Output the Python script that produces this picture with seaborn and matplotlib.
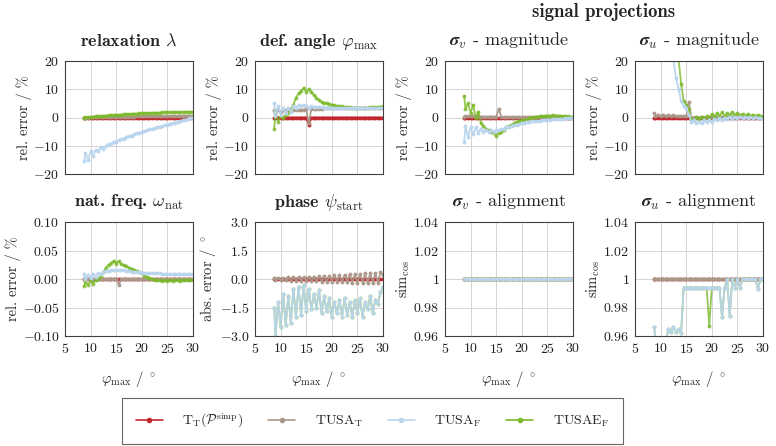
import numpy as np
import pandas as pd
import matplotlib
matplotlib.use("Agg")
import matplotlib.pyplot as plt
from matplotlib.lines import Line2D
import seaborn as sns

# phi_max sample positions (deg)
phi = [8.75, 9.0, 9.5, 10.0, 10.5, 11.0, 11.5, 12.0, 12.5, 13.0, 13.5,
       14.0, 14.5, 15.0, 15.5, 16.0, 16.5, 17.0, 17.5, 18.0, 18.5, 19.0,
       19.5, 20.0, 20.5, 21.0, 21.5, 22.0, 22.5, 23.0, 23.5, 24.0, 24.5,
       25.0, 25.5, 26.0, 26.5, 27.0, 27.5, 28.0, 28.5, 29.0, 29.5, 30.0]

methods = ["TT", "TUSA_T", "TUSA_F", "TUSAE_F"]
labels = [r"$\mathrm{T}_\mathrm{T}(\mathcal{P}^\mathrm{simp})$",
          r"$\mathrm{TUSA}_\mathrm{T}$",
          r"$\mathrm{TUSA}_\mathrm{F}$",
          r"$\mathrm{TUSAE}_\mathrm{F}$"]
colors = {"TT": "#c1272d", "TUSA_T": "#ab988a", "TUSA_F": "#bad5ee", "TUSAE_F": "#7ab929"}

zeros = [0.0] * 11  # one row of 11 samples at zero

# --- relaxation lambda (rel. error %)
lam_tt = zeros + zeros + zeros + zeros
lam_tusa_t = [0.0, 0.0, 0.0, 0.05, 0.05, 0.1, 0.1, 0.1, 0.15, 0.15, 0.2,
              0.2, 0.2, 0.25, 0.25, 0.3, 0.3, 0.3, 0.35, 0.35, 0.35, 0.4,
              0.4, 0.4, 0.4, 0.45, 0.45, 0.45, 0.45, 0.5, 0.5, 0.5, 0.5,
              0.5, 0.55, 0.55, 0.55, 0.55, 0.55, 0.6, 0.6, 0.6, 0.6, 0.6]
lam_tusa_f = [-15.5, -12.5, -15, -12, -13.5, -11.5, -12, -10.5, -11, -10, -9.5,
              -9.5, -8.5, -8.5, -8, -7.5, -7.5, -7, -6.5, -6.5, -6, -5.5,
              -5.5, -5, -4.8, -4.5, -4.2, -4, -3.7, -3.5, -3.2, -3, -2.7,
              -2.5, -2.2, -2, -1.8, -1.5, -1.3, -1, -0.8, -0.6, -0.3, 0]
lam_tusae_f = [0.0, 0.05, 0.1, 0.2, 0.3, 0.4, 0.45, 0.55, 0.6, 0.7, 0.75,
               0.8, 0.9, 0.95, 1.0, 1.05, 1.1, 1.2, 1.25, 1.3, 1.35, 1.4,
               1.45, 1.5, 1.55, 1.6, 1.6, 1.65, 1.7, 1.7, 1.75, 1.8, 1.8,
               1.85, 1.85, 1.9, 1.9, 1.9, 1.95, 1.95, 2.0, 2.0, 2.0, 2.0]

# --- deflection angle phi_max (rel. error %)
phi_tt = [0, 0, 0, 0, 0, 0, 0, 0, 0, 0, 0,
          0, 0, 0, -2.5, 0, 0, 0, 0, 0, 0, 0] + zeros + zeros
phi_tusa_t = [2.5, 1.5, 2.5, 2.0, 2.5, 2.5, 2.5, 2.5, 2.5, 2.5, 2.7,
              2.7, 2.8, 3.0, -2.0, 3.0, 3.0, 3.1, 3.1, 3.1, 3.2, 3.2,
              3.2, 3.2, 3.2, 3.2, 3.3, 3.3, 3.3, 3.3, 3.3, 3.3, 3.3,
              3.4, 3.4, 3.4, 3.4, 3.4, 3.4, 3.4, 3.4, 3.4, 3.4, 3.4]
phi_tusa_f = [5, 0.5, 4, 1, 3.5, 1.5, 3.5, 2, 4, 3.5, 4.5,
              4, 4.5, 4, 3.5, 4, 3.8, 3.7, 3.6, 3.6, 3.5, 3.5,
              3.5, 3.5, 3.4, 3.4, 3.4, 3.4, 3.4, 3.4, 3.4, 3.4, 3.4,
              3.4, 3.4, 3.4, 3.4, 3.4, 3.4, 3.4, 3.4, 3.4, 3.4, 3.5]
phi_tusae_f = [-4, 2.5, -1.5, 0.5, 0, 1, 1.5, 3, 4.5, 7, 8.5,
               9.5, 10.5, 9, 10, 9, 8, 7, 6.2, 5.5, 5.2, 5,
               4.8, 4.5, 4.3, 4.2, 4, 3.9, 3.8, 3.7, 3.6, 3.5, 3.5,
               3.5, 3.4, 3.4, 3.5, 3.5, 3.6, 3.6, 3.7, 3.8, 3.8, 4.0]

# --- sigma_v magnitude (rel. error %)
sv_tt = zeros + zeros + zeros + zeros
sv_tusa_t = [0.3, 0.5, 0.5, 0.5, 0.4, 0.4, 0.4, 0.3, 0.3, 0.3, 0.3,
             0.3, 0.3, 0.3, 3.0, 0.2, 0.2, 0.2, 0.2, 0.1, 0.1, 0.1,
             0.1, 0.1, 0.1, 0.1, 0.1, 0.1, 0.1, 0.1, 0.1, 0.1, 0.1,
             0.0, 0.0, 0.0, 0.0, 0.0, 0.0, 0.0, 0.0, 0.0, 0.0, 0.0]
sv_tusa_f = [-8.5, -3, -7, -3.5, -6, -3.5, -5.5, -4, -5, -4.5, -5,
             -4.5, -5, -4.5, -4.5, -4.2, -4, -3.5, -3.2, -3, -2.7, -2.5,
             -2.3, -2, -1.8, -1.7, -1.5, -1.4, -1.3, -1.2, -1.1, -1, -0.9,
             -0.8, -0.8, -0.7, -0.6, -0.5, -0.5, -0.4, -0.3, -0.2, -0.2, -0.1]
sv_tusae_f = [7.5, 3, 5, 1.5, 4.5, 0, 2, -2, -3, -4, -4.5,
              -5, -5.5, -6.5, -5.5, -5, -4.5, -3.5, -3, -2.5, -2, -1.5,
              -1.2, -1, -0.8, -0.5, -0.3, 0, 0.2, 0.3, 0.5, 0.5, 0.6,
              0.7, 0.7, 0.8, 0.7, 0.7, 0.6, 0.5, 0.5, 0.4, 0.3, 0.3]

# --- sigma_u magnitude (rel. error %)
su_tt = zeros + zeros + zeros + zeros
su_tusa_t = [1.5, 0.5, 1, 0.5, 1, 0.5, 0.8, 0.5, 0.8, 0.5, 0.6,
             0.5, 0.5, 0.5, 5.5, 0, 0, 0.2, 0, 0.1, 0, 0.1,
             0.2, 0.1, 0.2, 0.1, 0.2, 0.1, 0.2, 0.1, 0.2, 0.1, 0.2,
             0.1, 0.2, 0.1, 0.2, 0.1, 0.2, 0.1, 0.2, 0.1, 0.2, 0.1]
su_tusa_f = [50, 46, 42, 38, 34, 30, 27, 24, 20.5, 14, 10,
             6, 4, 3.5, 1, -1.5, -1, -2, -1.5, -2, -1, -1.5,
             -0.8, -1.5, -0.5, -1, -0.3, -1, 0, -0.5, 0.3, -0.5, 0.2,
             -0.3, 0.2, -0.3, 0.3, -0.2, 0.2, -0.3, 0.2, -0.2, 0, -0.5]
su_tusae_f = [60, 58, 55, 52, 48, 44, 40, 35, 30, 25, 21,
              12, 6, 4.5, 3, -0.5, -1, 0.2, -0.5, 0.3, -0.5, 0.5,
              -0.3, 1.2, 0.2, 1.5, 0.5, 1.8, 0.5, 1.5, 0.8, 2, 0.8,
              1.5, 0.8, 1.3, 0.7, 1.2, 0.5, 1, 0.6, 0.8, 0.4, 0.5]

# --- natural frequency omega_nat (rel. error %)
om_tt = zeros + zeros + zeros + zeros
om_tusa_t = [0, 0, 0, 0, 0, 0, 0, 0, 0, 0, 0,
             0, 0, 0, -0.01, 0, 0, 0, 0, 0, 0, 0] + zeros + zeros
om_tusa_f = [0.008, 0.0, 0.007, 0.002, 0.008, 0.004, 0.01, 0.008, 0.012, 0.014, 0.014,
             0.015, 0.015, 0.016, 0.015, 0.016, 0.015, 0.014, 0.014, 0.013, 0.013, 0.012,
             0.012, 0.011, 0.011, 0.011, 0.01, 0.01, 0.01, 0.01, 0.01, 0.009, 0.009,
             0.009, 0.009, 0.009, 0.009, 0.008, 0.008, 0.008, 0.008, 0.008, 0.008, 0.008]
om_tusae_f = [-0.012, -0.006, -0.01, -0.004, -0.008, -0.002, 0.0, 0.005, 0.012, 0.02, 0.025,
              0.028, 0.032, 0.027, 0.031, 0.026, 0.024, 0.022, 0.02, 0.018, 0.016, 0.014,
              0.012, 0.01, 0.006, 0.004, 0.002, 0.0, -0.001, -0.002, -0.002, -0.003, -0.002,
              -0.003, -0.002, -0.003, -0.002, -0.002, -0.003, -0.002, -0.002, -0.002, -0.001, -0.001]

# --- phase psi_start (abs. error deg)
ps_tt = zeros + zeros + zeros + zeros
ps_tusa_t = [0.05, -0.05, 0.05, -0.05, 0.05, -0.05, 0.08, -0.08, 0.08, -0.08, 0.1,
             -0.1, 0.1, -0.1, 0.12, -0.12, 0.12, -0.12, 0.15, -0.15, 0.15, -0.15,
             0.18, -0.15, 0.2, -0.15, 0.2, -0.18, 0.22, -0.18, 0.25, -0.2, 0.25,
             -0.2, 0.28, -0.2, 0.3, -0.22, 0.3, -0.2, 0.32, -0.2, 0.35, 0.2]
ps_tusa_f = [-1.5, -3.0, -1.2, -2.5, -0.8, -2.4, -0.9, -2.3, -0.5, -2.0, -0.4,
             -1.9, -0.3, -1.7, -0.5, -1.6, -0.8, -1.5, -0.6, -1.8, -0.9, -1.7,
             -1.0, -2.0, -1.2, -1.8, -1.1, -2.0, -1.0, -1.9, -1.2, -2.0, -1.1,
             -1.8, -1.0, -2.0, -1.2, -1.6, -0.9, -1.8, -1.1, -1.3, -0.7, -0.4]
ps_tusae_f = list(ps_tusa_f)

# --- sigma_v alignment (cosine similarity)
av_all = [1.0] * 44

# --- sigma_u alignment (cosine similarity)
au_tt = [1.0] * 44
au_tusa_t = [1.0] * 44
au_tusa_f = [0.966, 0.955, 0.955, 0.955, 0.955, 0.955, 0.965, 0.963, 0.966, 0.963, 0.965,
             0.962, 0.994, 0.994, 0.994, 0.994, 0.994, 0.994, 0.994, 0.994, 0.994, 0.994,
             0.994, 0.994, 0.994, 0.994, 0.994, 0.973, 0.994, 1.0, 0.974, 1.0, 0.994,
             1.0, 0.994, 1.0, 1.0, 1.0, 1.0, 1.0, 1.0, 0.993, 1.0, 1.0]
au_tusae_f = [0.966, 0.955, 0.955, 0.955, 0.955, 0.955, 0.965, 0.963, 0.966, 0.963, 0.965,
              0.962, 0.994, 0.994, 0.994, 0.994, 0.994, 0.994, 0.994, 0.994, 0.994, 0.994,
              0.967, 0.994, 0.994, 0.994, 0.994, 0.973, 0.994, 1.0, 0.974, 1.0, 0.994,
              1.0, 0.994, 1.0, 1.0, 1.0, 1.0, 1.0, 1.0, 0.993, 1.0, 1.0]

panels = [
    dict(title=r"relaxation $\lambda$", bold=True, ylim=(-20, 20),
         yticks=[-20, -10, 0, 10, 20], ylabel="rel. error / %",
         data=[lam_tt, lam_tusa_t, lam_tusa_f, lam_tusae_f]),
    dict(title=r"def. angle $\varphi_\mathrm{max}$", bold=True, ylim=(-20, 20),
         yticks=[-20, -10, 0, 10, 20], ylabel="rel. error / %",
         data=[phi_tt, phi_tusa_t, phi_tusa_f, phi_tusae_f]),
    dict(title=r"$\boldsymbol{\sigma}_v$ - magnitude", bold=False, ylim=(-20, 20),
         yticks=[-20, -10, 0, 10, 20], ylabel="rel. error / %",
         data=[sv_tt, sv_tusa_t, sv_tusa_f, sv_tusae_f]),
    dict(title=r"$\boldsymbol{\sigma}_u$ - magnitude", bold=False, ylim=(-20, 20),
         yticks=[-20, -10, 0, 10, 20], ylabel="rel. error / %",
         data=[su_tt, su_tusa_t, su_tusa_f, su_tusae_f]),
    dict(title=r"nat. freq. $\omega_\mathrm{nat}$", bold=True, ylim=(-0.1, 0.1),
         yticks=[-0.1, -0.05, 0, 0.05, 0.1], ylabel="rel. error / %",
         yticklabels=["-0.10", "-0.05", "0.00", "0.05", "0.10"],
         data=[om_tt, om_tusa_t, om_tusa_f, om_tusae_f]),
    dict(title=r"phase $\psi_\mathrm{start}$", bold=True, ylim=(-3, 3),
         yticks=[-3, -1.5, 0, 1.5, 3], ylabel=r"abs. error / $^\circ$",
         yticklabels=["-3.0", "-1.5", "0.0", "1.5", "3.0"],
         data=[ps_tt, ps_tusa_t, ps_tusa_f, ps_tusae_f]),
    dict(title=r"$\boldsymbol{\sigma}_v$ - alignment", bold=False, ylim=(0.96, 1.04),
         yticks=[0.96, 0.98, 1.0, 1.02, 1.04], ylabel=r"$\mathrm{sim}_{\cos}$",
         yticklabels=["0.96", "0.98", "1", "1.02", "1.04"],
         data=[av_all, av_all, av_all, av_all]),
    dict(title=r"$\boldsymbol{\sigma}_u$ - alignment", bold=False, ylim=(0.96, 1.04),
         yticks=[0.96, 0.98, 1.0, 1.02, 1.04], ylabel=r"$\mathrm{sim}_{\cos}$",
         yticklabels=["0.96", "0.98", "1", "1.02", "1.04"],
         data=[au_tt, au_tusa_t, au_tusa_f, au_tusae_f]),
]

sns.set_theme(style="whitegrid")
plt.rcParams.update({
    "font.family": "serif",
    "font.serif": ["cmr10"],
    "mathtext.fontset": "cm",
    "axes.formatter.use_mathtext": True,
    "axes.edgecolor": "#404040",
    "axes.linewidth": 0.8,
    "grid.color": "#d4d4d4",
    "grid.linewidth": 0.7,
    "xtick.color": "#202020",
    "ytick.color": "#202020",
})

fig = plt.figure(figsize=(7.76, 4.46), dpi=100)
lefts = [65, 255, 445, 635]
draw_order = [0, 1, 3, 2]  # red, brown, green, then light blue on top
alphas = [1.0, 0.95, 0.95, 0.8]

for k, p in enumerate(panels):
    row, col = divmod(k, 4)
    if row == 0:
        rect = [lefts[col] / 776, 1 - 174 / 446, 128 / 776, 113 / 446]
    else:
        rect = [lefts[col] / 776, 1 - 336 / 446, 128 / 776, 114 / 446]
    ax = fig.add_axes(rect)
    for j in draw_order:
        df = pd.DataFrame({"phi": phi, "val": p["data"][j]})
        sns.lineplot(data=df, x="phi", y="val", ax=ax, color=colors[methods[j]],
                     marker="o", markersize=2.8, markeredgewidth=0, linewidth=1.3,
                     alpha=alphas[j], sort=False, legend=False)
    ax.set_xlim(5, 30)
    ax.set_ylim(*p["ylim"])
    ax.set_xticks([5, 10, 15, 20, 25, 30])
    ax.set_yticks(p["yticks"])
    if "yticklabels" in p:
        ax.set_yticklabels(["$" + s + "$" for s in p["yticklabels"]])
    else:
        ax.set_yticklabels(["$%d$" % v for v in p["yticks"]])
    ax.tick_params(axis="both", length=0, pad=4, labelsize=10)
    if row == 0:
        ax.set_xticklabels([])
        ax.set_xlabel("")
    else:
        ax.set_xticklabels(["$%d$" % v for v in [5, 10, 15, 20, 25, 30]])
        ax.set_xlabel(r"$\varphi_\mathrm{max}$ / $^\circ$", fontsize=10.5, labelpad=10)
    ax.set_ylabel(p["ylabel"], fontsize=10.5, labelpad=1)
    ax.grid(True)
    for s in ax.spines.values():
        s.set_visible(True)
        s.set_color("#404040")
    if p["bold"]:
        ax.set_title(p["title"], fontsize=13, fontfamily="cmb10", pad=11)
    else:
        ax.set_title(p["title"], fontsize=13, pad=11)

fig.text(604 / 776, 1 - 12 / 446, "signal projections", fontsize=13.5,
         fontfamily="cmb10", ha="center", va="center")

handles = [Line2D([], [], color=colors[m], marker="o", markersize=4,
                  markeredgewidth=0, linewidth=1.2) for m in methods]
leg = fig.legend(handles, labels, loc="lower center", bbox_to_anchor=(0.48, 0.004),
                 ncol=4, frameon=True, fancybox=False, edgecolor="#404040",
                 handlelength=1.95, handletextpad=1.4, columnspacing=1.8,
                 borderpad=1.0, borderaxespad=0.0, fontsize=10)
leg.get_frame().set_linewidth(0.8)

fig.savefig("out.png", dpi=100)
